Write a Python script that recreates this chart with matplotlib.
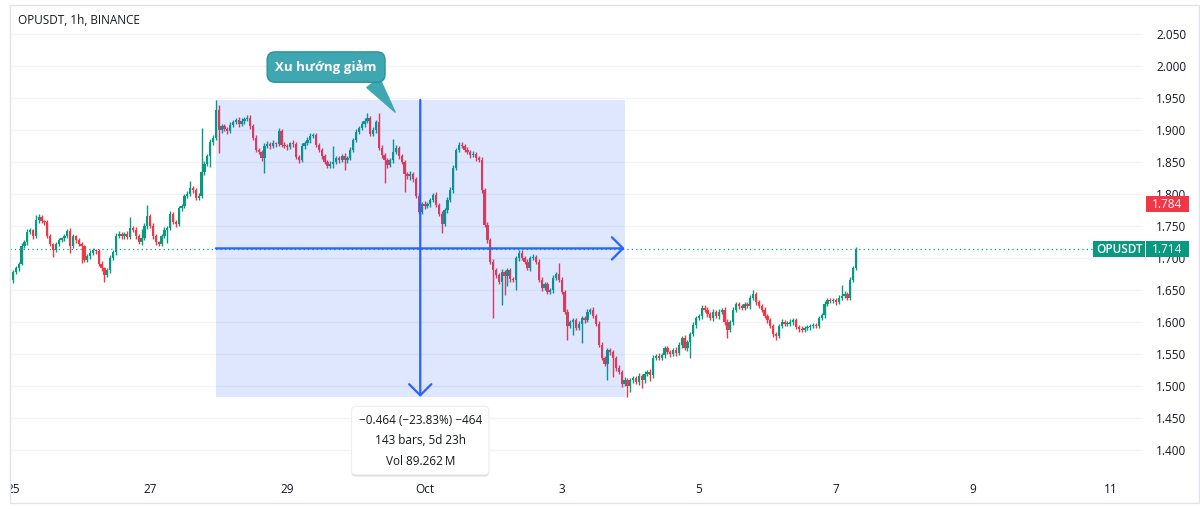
import numpy as np
import matplotlib
matplotlib.use('Agg')
import matplotlib.pyplot as plt
from matplotlib.patches import Rectangle
from matplotlib.transforms import blended_transform_factory, Bbox, TransformedBbox
from matplotlib.patheffects import withSimplePatchShadow

plt.rcParams['font.family'] = ['Open Sans', 'DejaVu Sans']

# hourly closes of OPUSDT (Binance), from Sep 25 00:00
closes = [
    1.678, 1.684, 1.691, 1.719, 1.725, 1.741, 1.744, 1.734, 1.759, 1.764,
    1.758, 1.756, 1.734, 1.722, 1.712, 1.722, 1.728, 1.731, 1.734, 1.742,
    1.719, 1.734, 1.728, 1.722, 1.719, 1.697, 1.703, 1.708, 1.712, 1.711,
    1.691, 1.684, 1.673, 1.681, 1.700, 1.709, 1.734, 1.738, 1.734, 1.738,
    1.733, 1.747, 1.744, 1.734, 1.725, 1.731, 1.750, 1.766, 1.750, 1.734,
    1.725, 1.722, 1.734, 1.744, 1.747, 1.769, 1.756, 1.753, 1.778, 1.781,
    1.797, 1.800, 1.809, 1.806, 1.794, 1.797, 1.834, 1.847, 1.859, 1.881,
    1.888, 1.931, 1.900,
    1.906, 1.902, 1.898, 1.908, 1.912, 1.916, 1.909, 1.914, 1.917, 1.919,
    1.906, 1.888, 1.869, 1.866, 1.856, 1.875, 1.878, 1.875, 1.880, 1.878,
    1.898, 1.877, 1.875, 1.873, 1.880, 1.878, 1.858, 1.853, 1.875, 1.880,
    1.884, 1.891, 1.892, 1.877, 1.869, 1.859, 1.850, 1.844, 1.847, 1.850,
    1.856, 1.853, 1.859, 1.853, 1.856, 1.869, 1.884, 1.897, 1.903, 1.909,
    1.914, 1.919, 1.894, 1.900, 1.912, 1.872, 1.861, 1.853, 1.845, 1.853,
    1.866, 1.872, 1.859, 1.850, 1.831, 1.828, 1.831, 1.823, 1.797, 1.772,
    1.784, 1.781, 1.784, 1.791, 1.798, 1.783, 1.769, 1.753, 1.775, 1.791,
    1.806, 1.841, 1.869, 1.877, 1.875, 1.869, 1.866, 1.861, 1.863, 1.856,
    1.853, 1.806, 1.752, 1.728, 1.694, 1.681, 1.673, 1.662, 1.678, 1.672,
    1.681, 1.667, 1.666, 1.700, 1.708, 1.700, 1.694, 1.684, 1.700, 1.702,
    1.694, 1.666, 1.653, 1.659, 1.647, 1.650, 1.669, 1.675, 1.666, 1.647,
    1.616, 1.594, 1.600, 1.603, 1.591, 1.597, 1.606, 1.603, 1.616, 1.619,
    1.609, 1.597, 1.564, 1.544, 1.534, 1.556, 1.553, 1.544, 1.528, 1.522,
    1.503, 1.509, 1.500, 1.509, 1.512, 1.506, 1.516, 1.509, 1.519, 1.522,
    1.517, 1.544, 1.547, 1.544, 1.548, 1.559, 1.553, 1.550, 1.556, 1.551,
    1.564, 1.575, 1.559, 1.569, 1.581, 1.595, 1.606, 1.609, 1.622, 1.619,
    1.612, 1.606, 1.616, 1.609, 1.616, 1.619, 1.600, 1.588, 1.600, 1.619,
    1.628, 1.625, 1.622, 1.628, 1.625, 1.638, 1.644, 1.631, 1.625, 1.619,
    1.609, 1.603, 1.594, 1.581, 1.578, 1.594, 1.600, 1.597, 1.597, 1.600,
    1.603, 1.592, 1.589, 1.588, 1.591, 1.592, 1.594, 1.595, 1.594, 1.606,
    1.611, 1.628, 1.634, 1.633, 1.634, 1.631, 1.638, 1.641, 1.644, 1.638,
    1.666, 1.684, 1.714,
]
first_open = 1.666

# wick lengths above / below the body, in thousandths
wick_up = [
    3, 4, 2, 5, 3, 4, 3, 2, 8, 4,  3, 2, 4, 3, 2, 3, 4, 2, 3, 4,
    5, 3, 2, 4, 3, 2, 3, 4, 3, 2,  3, 4, 2, 3, 4, 3, 5, 4, 3, 2,
    4, 17, 3, 4, 3, 15, 4, 17, 3, 4,  3, 2, 3, 4, 3, 5, 3, 4, 3, 4,
    3, 4, 12, 4, 3, 4, 69, 4, 3, 5,  4, 16, 8, 3, 4, 3, 5, 4, 3, 4,
    4, 3, 5, 4, 3, 4, 3, 2, 4, 5,  3, 4, 2, 5, 3, 4, 3, 2, 4, 3,
    3, 4, 3, 5, 4, 3, 4, 3, 3, 4,  3, 4, 25, 3, 4, 3, 5, 3, 4, 3,
    4, 3, 5, 4, 8, 3, 4, 3, 15, 4,  3, 4, 3, 20, 4, 3, 4, 3, 4, 5,
    4, 3, 4, 3, 5, 4, 3, 4, 5, 3,  4, 3, 4, 5, 4, 3, 5, 4, 3, 4,
    3, 4, 3, 4, 5, 3, 4, 3, 4, 3,  4, 5, 3, 4, 3, 4, 3, 5, 4, 3,
    4, 3, 4, 3, 5, 4, 3, 4, 3, 4,  3, 17, 4, 3, 4, 3, 4, 3, 5, 4,
    3, 4, 3, 4, 3, 4, 5, 3, 4, 3,  4, 3, 4, 3, 5, 4, 3, 4, 3, 4,
    3, 4, 3, 5, 4, 3, 4, 3, 4, 3,  4, 3, 5, 4, 3, 4, 3, 4, 5, 3,
    3, 4, 5, 4, 3, 4, 3, 4, 3, 4,  5, 3, 4, 3, 4, 3, 4, 3, 4, 6,
    3, 4, 3, 4, 3, 4, 3, 4, 3, 4,  3, 4, 5, 3, 4, 3, 4, 3, 4, 3,
    4, 3, 4, 3, 5, 4, 3, 4, 3, 4,  17, 4, 3, 4, 3, 3,
]
wick_dn = [
    5, 3, 4, 2, 3, 4, 3, 5, 3, 4,  3, 4, 3, 4, 10, 3, 4, 3, 4, 3,
    11, 3, 4, 3, 27, 4, 3, 4, 3, 4,  3, 4, 10, 3, 4, 3, 4, 3, 5, 4,
    3, 4, 3, 4, 3, 4, 3, 4, 3, 5,  4, 3, 4, 3, 20, 4, 3, 4, 3, 4,
    3, 4, 3, 4, 3, 4, 3, 4, 3, 17,  4, 3, 36, 4, 3, 4, 3, 4, 3, 4,
    3, 4, 3, 4, 3, 4, 3, 4, 23, 3,  4, 3, 4, 3, 4, 3, 4, 3, 4, 3,
    4, 3, 4, 3, 4, 3, 4, 3, 4, 3,  4, 3, 6, 3, 4, 3, 15, 4, 3, 4,
    3, 4, 3, 4, 3, 4, 3, 4, 3, 4,  36, 4, 3, 4, 3, 4, 3, 28, 4, 6,
    4, 3, 4, 3, 4, 3, 4, 3, 4, 3,  14, 3, 4, 3, 4, 3, 4, 3, 4, 3,
    4, 3, 4, 3, 4, 3, 4, 3, 75, 4,  3, 35, 30, 15, 4, 3, 16, 4, 3, 4,
    3, 4, 3, 4, 3, 4, 3, 4, 3, 4,  4, 3, 4, 3, 22, 4, 20, 4, 3, 30,
    4, 3, 4, 3, 4, 3, 4, 3, 25, 4,  30, 4, 3, 4, 3, 17, 10, 4, 3, 4,
    12, 4, 3, 10, 4, 3, 4, 3, 4, 3,  4, 3, 4, 3, 4, 3, 4, 25, 3, 4,
    3, 4, 3, 4, 3, 4, 3, 4, 3, 4,  13, 3, 4, 3, 4, 3, 4, 3, 4, 3,
    4, 3, 4, 3, 4, 3, 4, 6, 3, 4,  3, 4, 3, 4, 3, 4, 3, 4, 3, 4,
    4, 3, 4, 3, 4, 3, 4, 3, 4, 3,  4, 3, 4, 3, 4, 3,
]

tick_hours = [0, 48, 96, 144, 192, 240, 288, 336, 384]
tick_labels = ['25', '27', '29', 'Oct', '3', '5', '7', '9', '11']
price_ticks = [1.40, 1.45, 1.50, 1.55, 1.60, 1.65, 1.70, 1.75,
               1.80, 1.85, 1.90, 1.95, 2.00, 2.05]

# date/price range drawing
range_start, range_end = 71, 214
range_high, range_low = 1.947, 1.483
range_vol = '89.262\u2009M'
last_price = 1.714
marker_price = 1.784
note_text = 'Xu hướng giảm'
note_at = (133.7, 1.928)

GREEN = '#089981'
RED = '#f23645'
BLUE = '#2962ff'
TEAL = '#3fa7b2'
TXT = '#131722'

W, H = 1200, 509
fig = plt.figure(figsize=(W / 100, H / 100), dpi=100)
ax = fig.add_axes([10 / W, 1 - 475 / H, 1133 / W, 470 / H])
ax.set_xlim(-1.05, 395.4)
ax.set_ylim(1.3609, 2.0953)
for s in ax.spines.values():
    s.set_visible(False)

# candles
closes_a = np.array(closes)
opens_a = np.r_[first_open, closes_a[:-1]]
hi = np.maximum(opens_a, closes_a) + np.array(wick_up) / 1000
lo = np.minimum(opens_a, closes_a) - np.array(wick_dn) / 1000
xs = np.arange(len(closes_a))
cols = np.where(closes_a >= opens_a, GREEN, RED)
ax.vlines(xs, lo, hi, colors=cols, lw=1.0, zorder=3)
ax.bar(xs, np.maximum(np.abs(closes_a - opens_a), 0.0016),
       bottom=np.minimum(opens_a, closes_a), width=0.8, color=cols,
       linewidth=0, zorder=3)

# axes / grid
ax.set_yticks(price_ticks)
ax.set_yticklabels(['%.3f' % p for p in price_ticks])
ax.yaxis.tick_right()
ax.tick_params(axis='y', length=0, pad=9.5, labelsize=8.5, labelcolor=TXT)
ax.grid(axis='y', color='#f0f3fa', lw=1, zorder=0)
ax.set_xticks(tick_hours)
ax.set_xticklabels(tick_labels)
ax.tick_params(axis='x', length=0, pad=6, labelsize=8.5, labelcolor=TXT)
clip = TransformedBbox(Bbox([[10 / W, 0], [1143 / W, 1]]), fig.transFigure)
for lbl in ax.get_xticklabels():
    lbl.set_clip_box(clip)
    lbl.set_clip_on(True)

# last price line
ax.axhline(last_price, color=GREEN, lw=0.9, ls=(0, (1, 2.5)), zorder=2)

# range rectangle and arrows
ax.add_patch(Rectangle((range_start, range_low), range_end - range_start,
                       range_high - range_low, fc=BLUE, alpha=0.15, lw=0,
                       zorder=4))
mid_x = (range_start + range_end) / 2
mid_y = (range_high + range_low) / 2
arrow = dict(arrowstyle='->,head_length=0.8,head_width=0.8', color=BLUE,
             lw=1.6, shrinkA=0, shrinkB=0)
ax.annotate('', xy=(mid_x, range_low), xytext=(mid_x, range_high),
            arrowprops=arrow, zorder=5)
ax.annotate('', xy=(range_end, mid_y), xytext=(range_start, mid_y),
            arrowprops=arrow, zorder=5)

change = range_low - range_high
pct = change / range_high * 100
bars = range_end - range_start
info = '%s (%s%%) %s\n%d bars, %dd %dh\nVol %s' % (
    ('%.3f' % change).replace('-', '\u2212'),
    ('%.2f' % pct).replace('-', '\u2212'),
    ('%d' % round(change * 1000)).replace('-', '\u2212'),
    bars, bars // 24, bars % 24, range_vol)
ann = ax.annotate(info, xy=(mid_x, range_low), xytext=(0, -12),
                  textcoords='offset points', ha='center', va='top',
                  fontsize=8.5, color=TXT, linespacing=1.75, zorder=6,
                  bbox=dict(boxstyle='round,pad=0.6,rounding_size=0.35',
                            fc='white', ec='#eceef2', lw=0.8))
ann.get_bbox_patch().set_path_effects(
    [withSimplePatchShadow(offset=(0, -1.5), shadow_rgbFace='#000000',
                           alpha=0.12)])

# callout note
ax.annotate(note_text, xy=note_at, xytext=(-69, 45),
            textcoords='offset pixels', ha='center', va='center',
            fontsize=9.5, fontweight='bold', color='white', zorder=7,
            bbox=dict(boxstyle='round,pad=0.62,rounding_size=0.6',
                      fc=TEAL, ec='#2d929c', lw=1),
            arrowprops=dict(arrowstyle='wedge,tail_width=1.2',
                            fc=TEAL, ec=TEAL, relpos=(0.9, 0.0),
                            shrinkA=0, shrinkB=0))

# title
ax.text(8 / 1133, (475 - 20) / 470, 'OPUSDT, 1h, BINANCE', transform=ax.transAxes,
        fontsize=8.5, color=TXT, va='center', ha='left')

# price labels on the scale
bt = blended_transform_factory(ax.transAxes, ax.transData)
box_h = 16 / 640
ax.add_patch(Rectangle((1.0026, marker_price - box_h / 2), 0.038, box_h,
                       transform=bt, fc=RED, lw=0, clip_on=False, zorder=8))
ax.text(1.0026 + 0.019, marker_price, '%.3f' % marker_price, transform=bt,
        ha='center', va='center', fontsize=8.5, color='white', zorder=9,
        clip_on=False)
ax.add_patch(Rectangle((0.9559, last_price - box_h / 2), 0.0459, box_h,
                       transform=bt, fc=GREEN, lw=0, clip_on=False, zorder=8))
ax.add_patch(Rectangle((1.0026, last_price - box_h / 2), 0.038, box_h,
                       transform=bt, fc=GREEN, lw=0, clip_on=False, zorder=8))
ax.text(0.9559 + 0.023, last_price, 'OPUSDT', transform=bt, ha='center',
        va='center', fontsize=8.5, color='white', fontweight='semibold',
        zorder=9, clip_on=False)
ax.text(1.0026 + 0.019, last_price, '%.3f' % last_price, transform=bt,
        ha='center', va='center', fontsize=8.5, color='white', zorder=9,
        clip_on=False)

# outer frame
fig.add_artist(Rectangle((10 / W, 1 - 503 / H), 1189 / W, 498 / H,
                         transform=fig.transFigure, fill=False,
                         ec='#e0e3eb', lw=1))

fig.savefig('out.png', dpi=100, facecolor='white')
